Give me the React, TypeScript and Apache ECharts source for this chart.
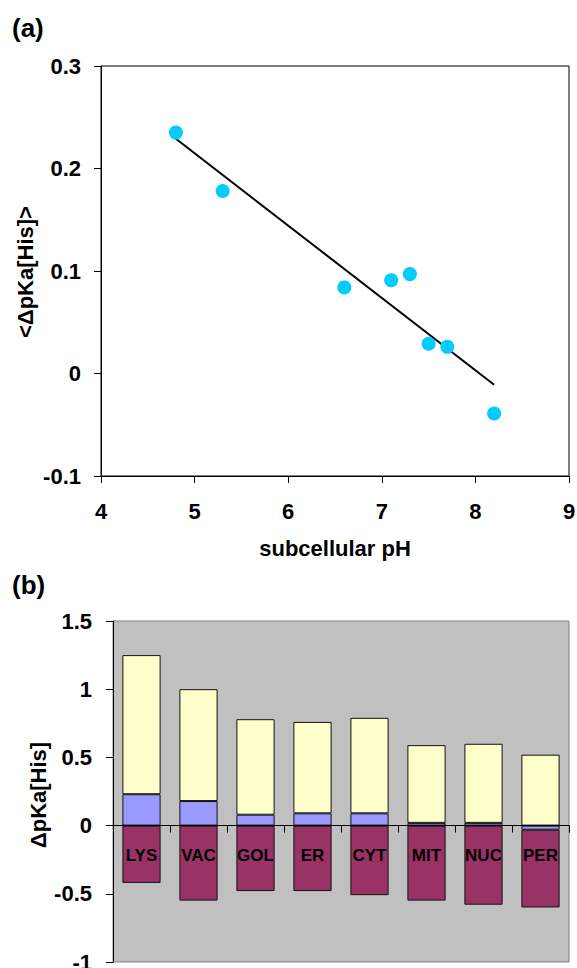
import React, { useEffect, useRef } from "react";
import * as echarts from "echarts";

// Panel (a): scatter of mean ΔpKa[His] against subcellular pH
const phValues = [4.8, 5.3, 6.6, 7.1, 7.3, 7.5, 7.7, 8.2];
const meanDpKa = [0.235, 0.178, 0.084, 0.091, 0.097, 0.029, 0.026, -0.039];
const trendX = [4.8, 8.2];
const trendY = [0.229, -0.011];

// Panel (b): stacked ΔpKa[His] per compartment
const compartments = ["LYS", "VAC", "GOL", "ER", "CYT", "MIT", "NUC", "PER"];
const blueVals = [0.23, 0.18, 0.08, 0.09, 0.09, 0.02, 0.02, -0.03];
const yellowVals = [1.02, 0.82, 0.7, 0.67, 0.7, 0.57, 0.58, 0.52];
const maroonVals = [-0.42, -0.55, -0.48, -0.48, -0.51, -0.55, -0.58, -0.57];
const bMin = -1;
const bMax = 1.5;

const FONT = "'Liberation Sans', Arial, sans-serif";

export default function App() {
  const ref = useRef<HTMLDivElement>(null);

  useEffect(() => {
    if (!ref.current) return;
    const chart = echarts.init(ref.current, undefined, { renderer: "svg" });
    const tickLabel = {
      fontFamily: FONT,
      fontWeight: "bold" as const,
      fontSize: 22,
      color: "#000",
    };
    const fmt1 = (v: number) => String(Math.round(v * 10) / 10);
    const barStyle = (color: string) => ({
      color,
      borderColor: "#111",
      borderWidth: 1,
    });
    const bGridHeight = 341;
    // place the category axis on the zero line of the value axis
    const zeroOffset = -bGridHeight * ((0 - bMin) / (bMax - bMin));

    chart.setOption({
      animation: false,
      grid: [
        {
          left: 101,
          top: 66,
          width: 468,
          height: 410,
          show: true,
          backgroundColor: "#fff",
          borderColor: "#000",
          borderWidth: 1,
          containLabel: false,
          outerBoundsMode: "none",
        },
        {
          left: 113,
          top: 621,
          width: 456,
          height: bGridHeight,
          show: true,
          backgroundColor: "#c0c0c0",
          borderColor: "#808080",
          borderWidth: 1,
          containLabel: false,
          outerBoundsMode: "none",
        },
      ],
      xAxis: [
        {
          gridIndex: 0,
          type: "value",
          min: 4,
          max: 9,
          interval: 1,
          axisLine: { show: true, onZero: false, lineStyle: { color: "#000", width: 1 } },
          axisTick: { show: true, length: 7, lineStyle: { color: "#000" } },
          axisLabel: { ...tickLabel, margin: 24 },
          splitLine: { show: false },
        },
        {
          gridIndex: 1,
          type: "category",
          data: compartments,
          position: "bottom",
          offset: zeroOffset,
          z: 10,
          axisLine: { show: true, onZero: false, lineStyle: { color: "#000", width: 1 } },
          axisTick: { show: true, length: 7, interval: 0, alignWithLabel: false, lineStyle: { color: "#000" } },
          axisLabel: {
            interval: 0,
            margin: 21,
            fontFamily: FONT,
            fontWeight: "bold",
            fontSize: 17,
            color: "#000",
          },
          splitLine: { show: false },
        },
      ],
      yAxis: [
        {
          gridIndex: 0,
          type: "value",
          min: -0.1,
          max: 0.3,
          interval: 0.1,
          axisLine: { show: true, onZero: false, lineStyle: { color: "#000", width: 1 } },
          axisTick: { show: true, length: 7, lineStyle: { color: "#000" } },
          axisLabel: { ...tickLabel, margin: 20, formatter: fmt1 },
          splitLine: { show: false },
        },
        {
          gridIndex: 1,
          type: "value",
          min: bMin,
          max: bMax,
          interval: 0.5,
          axisLine: { show: true, onZero: false, lineStyle: { color: "#000", width: 1 } },
          axisTick: { show: true, length: 7, lineStyle: { color: "#000" } },
          axisLabel: { ...tickLabel, margin: 21, formatter: fmt1 },
          splitLine: { show: false },
        },
      ],
      series: [
        {
          type: "line",
          xAxisIndex: 0,
          yAxisIndex: 0,
          data: trendX.map((x, i) => [x, trendY[i]]),
          showSymbol: false,
          symbol: "none",
          lineStyle: { color: "#000", width: 2 },
          z: 2,
        },
        {
          type: "scatter",
          xAxisIndex: 0,
          yAxisIndex: 0,
          data: phValues.map((x, i) => [x, meanDpKa[i]]),
          symbol: "circle",
          symbolSize: 14,
          itemStyle: { color: "#00ccff", opacity: 1 },
          z: 3,
        },
        {
          type: "bar",
          xAxisIndex: 1,
          yAxisIndex: 1,
          stack: "dpka",
          data: blueVals,
          barWidth: "67%",
          itemStyle: barStyle("#9999ff"),
        },
        {
          type: "bar",
          xAxisIndex: 1,
          yAxisIndex: 1,
          stack: "dpka",
          data: yellowVals,
          barWidth: "67%",
          itemStyle: barStyle("#ffffcc"),
        },
        {
          type: "bar",
          xAxisIndex: 1,
          yAxisIndex: 1,
          stack: "dpka",
          data: maroonVals,
          barWidth: "67%",
          itemStyle: barStyle("#993366"),
        },
      ],
      graphic: [
        {
          type: "text",
          left: 12,
          top: 15,
          style: { text: "(a)", font: `bold 26px ${FONT}`, fill: "#000" },
        },
        {
          type: "text",
          left: 12,
          top: 572,
          style: { text: "(b)", font: `bold 26px ${FONT}`, fill: "#000" },
        },
        {
          type: "text",
          x: 25,
          y: 272,
          rotation: Math.PI / 2,
          style: {
            text: "<ΔpKa[His]>",
            font: `bold 22px ${FONT}`,
            fill: "#000",
            align: "center",
            verticalAlign: "middle",
          },
        },
        {
          type: "text",
          x: 335,
          y: 548,
          style: {
            text: "subcellular pH",
            font: `bold 22px ${FONT}`,
            fill: "#000",
            align: "center",
            verticalAlign: "middle",
          },
        },
        {
          type: "text",
          x: 38,
          y: 795,
          rotation: Math.PI / 2,
          style: {
            text: "ΔpKa[His]",
            font: `bold 22px ${FONT}`,
            fill: "#000",
            align: "center",
            verticalAlign: "middle",
          },
        },
      ],
    });

    return () => chart.dispose();
  }, []);

  return (
    <div
      ref={ref}
      style={{ position: "absolute", left: 0, top: 0, width: 577, height: 968 }}
    />
  );
}
